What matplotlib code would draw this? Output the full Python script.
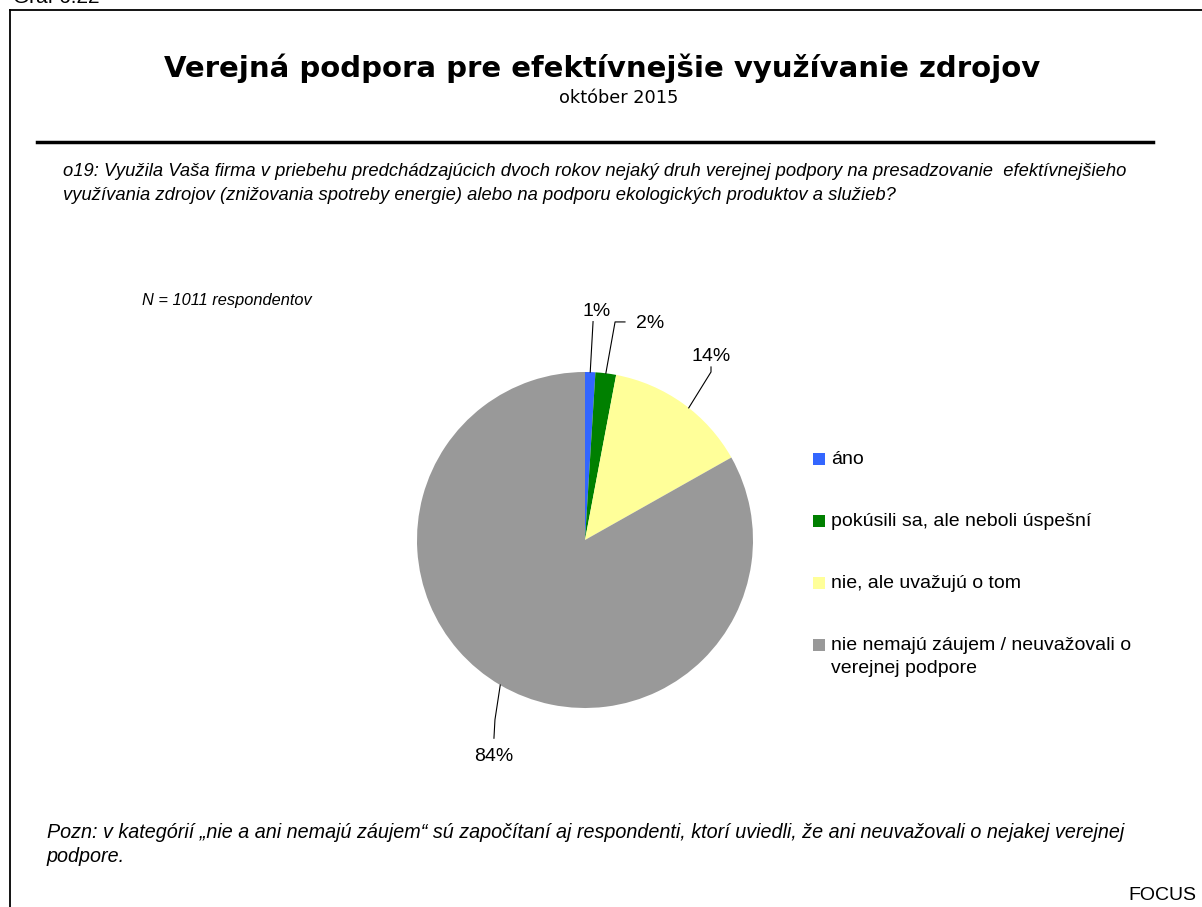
import numpy as np
import matplotlib
matplotlib.use("Agg")
import matplotlib.pyplot as plt
from matplotlib.lines import Line2D

categories = ["áno", "pokúsili sa, ale neboli úspešní", "nie, ale uvažujú o tom",
              "nie nemajú záujem / neuvažovali o\nverejnej podpore"]
values = [1, 2, 14, 84]
colors = ["#3366FF", "#008000", "#FFFF99", "#999999"]

W, H = 1202, 907
fig = plt.figure(figsize=(W / 100, H / 100), dpi=100)

def fx(x):
    return x / W

def fy(y):
    return 1 - y / H

# frame
fig.add_artist(Line2D([fx(10), fx(10)], [fy(10), 0], color="black", lw=1.3))
fig.add_artist(Line2D([fx(10), 1], [fy(10), fy(10)], color="black", lw=1.3))
fig.text(fx(13), fy(3), "Graf 6.22", fontsize=15, family="Liberation Sans", va="baseline", ha="left")

# title
fig.text(fx(602), fy(68), "Verejná podpora pre efektívnejšie využívanie zdrojov",
         fontsize=21, fontweight="bold", family="DejaVu Sans", ha="center", va="center")
fig.text(fx(619), fy(98), "október 2015", fontsize=12.8, family="DejaVu Sans", ha="center", va="center")
fig.add_artist(Line2D([fx(37), fx(1153)], [fy(142), fy(142)], color="black", lw=2.5))

fig.text(fx(63), fy(171),
         "o19: Využila Vaša firma v priebehu predchádzajúcich dvoch rokov nejaký druh verejnej podpory na presadzovanie  efektívnejšieho",
         fontsize=13.2, style="italic", family="Liberation Sans", ha="left", va="center")
fig.text(fx(63), fy(195),
         "využívania zdrojov (znižovania spotreby energie) alebo na podporu ekologických produktov a služieb?",
         fontsize=13.2, style="italic", family="Liberation Sans", ha="left", va="center")
fig.text(fx(142), fy(300), "N = 1011 respondentov", fontsize=11.8, style="italic",
         family="Liberation Sans", ha="left", va="center")

# pie
cx, cy, R = 585, 540, 168
ax = fig.add_axes([fx(cx - R), fy(cy + R), 2 * R / W, 2 * R / H])
wedges, _ = ax.pie(values, colors=colors, startangle=90, counterclock=False,
                   radius=1.0, wedgeprops=dict(linewidth=0))
ax.set_xlim(-1, 1)
ax.set_ylim(-1, 1)
ax.axis("off")

# label layout (data units relative to pie radius)
label_pos = [(0.071, 1.36), (0.39, 1.29), (0.75, 1.095), (-0.545, -1.29)]
elbows = [[(0.048, 1.30)], [(0.179, 1.298), (0.238, 1.298)], [(0.75, 1.0), (0.75, 1.03)],
          [(-0.536, -1.07), (-0.542, -1.18)]]
anchor_frac = [0.5, 0.5, 0.45, 0.5]
for w, v, pos, elb, af in zip(wedges, values, label_pos, elbows, anchor_frac):
    th = np.deg2rad(w.theta1 + (w.theta2 - w.theta1) * af)
    pts = [(np.cos(th), np.sin(th))] + elb
    ax.plot([p[0] for p in pts], [p[1] for p in pts], color="black", lw=0.8, clip_on=False)
    ax.text(pos[0], pos[1], f"{v}%", fontsize=14, family="Liberation Sans",
            ha="center", va="center", clip_on=False)

# legend
leg_y = [459, 521, 583, 645]
for cat, col, ly in zip(categories, colors, leg_y):
    fig.add_artist(plt.Rectangle((fx(813), fy(ly + 6)), 12 / W, 12 / H, color=col, lw=0))
    fig.text(fx(831), fy(ly - 8), cat, fontsize=14, family="Liberation Sans",
             ha="left", va="top", linespacing=1.45)

fig.text(fx(47), fy(832),
         "Pozn: v kategórií „nie a ani nemajú záujem“ sú započítaní aj respondenti, ktorí uviedli, že ani neuvažovali o nejakej verejnej",
         fontsize=14.2, style="italic", family="Liberation Sans", ha="left", va="center")
fig.text(fx(47), fy(856), "podpore.", fontsize=14.2, style="italic", family="Liberation Sans",
         ha="left", va="center")
fig.text(fx(1196), fy(895), "FOCUS", fontsize=14, family="Liberation Sans", ha="right", va="center")

fig.savefig("out.png", dpi=100)
